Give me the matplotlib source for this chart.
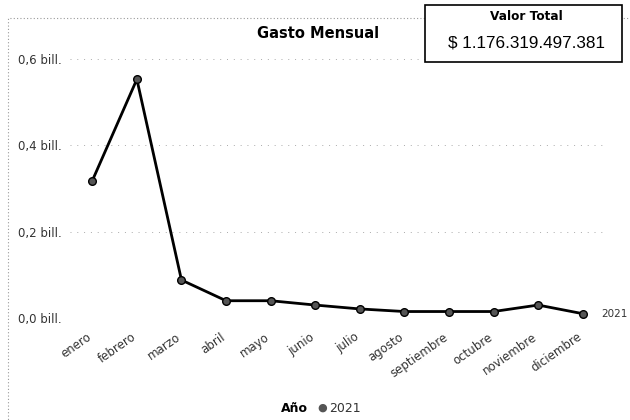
import matplotlib.pyplot as plt
import matplotlib.transforms as mtransforms
from matplotlib.patches import Rectangle

# data (bill. = 10^12 COP)
meses = ["enero", "febrero", "marzo", "abril", "mayo", "junio", "julio",
         "agosto", "septiembre", "octubre", "noviembre", "diciembre"]
gasto = [0.318, 0.553, 0.088, 0.040, 0.040, 0.030, 0.021,
         0.015, 0.015, 0.015, 0.030, 0.010]
y_ticks = [0.0, 0.2, 0.4, 0.6]
y_labels = ["0,0 bill.", "0,2 bill.", "0,4 bill.", "0,6 bill."]
serie = "2021"
total_txt = "$ 1.176.319.497.381"

W, H = 630, 420
fig = plt.figure(figsize=(6.3, 4.2), dpi=100)

def fx(px):
    return px / W

def fy(py):
    return 1 - py / H

# dotted frame of the visual
fig.patches.append(Rectangle((fx(8), fy(425)), fx(700), 407 / H, transform=fig.transFigure,
                             fill=False, edgecolor="#999999", lw=0.8, linestyle=(0, (1, 2))))

ax = fig.add_axes([fx(70), fy(318), fx(605 - 70), (318 - 59) / H])
x = list(range(len(meses)))
ax.plot(x, gasto, color="black", lw=2, marker="o", markersize=5.5,
        markerfacecolor="#555555", markeredgecolor="black", markeredgewidth=1, clip_on=False, zorder=3)
ax.set_xlim(-0.5, len(meses) - 0.5)
ax.set_ylim(0, 0.6)
ax.set_yticks(y_ticks)
ax.set_yticklabels(y_labels, fontsize=8.5, color="#333333")
ax.set_xticks(x)
ax.set_xticklabels(meses, rotation=35, ha="right", rotation_mode="anchor",
                   fontsize=8.5, color="#333333")
ax.tick_params(axis="y", length=0, pad=6)
ax.tick_params(axis="x", length=0, pad=9)
shift = mtransforms.ScaledTranslation(-6 / 100, 0, fig.dpi_scale_trans)
for lab in ax.get_xticklabels():
    lab.set_transform(lab.get_transform() + shift)
ax.grid(axis="y", color="#aaaaaa", linestyle=(0, (1, 6)), lw=0.7)
for s in ax.spines.values():
    s.set_visible(False)
ax.patch.set_alpha(0)

ax.annotate(serie, (x[-1], gasto[-1]), xytext=(13, 0), textcoords="offset points",
            fontsize=7.5, color="#333333", va="center", annotation_clip=False)

# title
fig.text(fx(318), fy(33), "Gasto Mensual", fontsize=10.5, fontweight="bold",
         ha="center", va="center")

# total box
fig.patches.append(Rectangle((fx(425), fy(62)), fx(622 - 425), 57 / H, transform=fig.transFigure,
                             fill=True, facecolor="white", edgecolor="black", lw=1.2, zorder=5))
fig.text(fx(526), fy(16), "Valor Total", fontsize=8.7, fontweight="bold",
         ha="center", va="center", zorder=6)
fig.text(fx(527), fy(43), total_txt, fontsize=12.3, ha="center", va="center",
         family="Liberation Sans", zorder=6)

# legend
fig.text(fx(294), fy(408), "Año", fontsize=9, fontweight="bold", ha="center", va="center")
fig.text(fx(322), fy(408), "\u25CF", fontsize=8, color="#555555", ha="center", va="center")
fig.text(fx(329), fy(408), serie, fontsize=9, color="#333333", ha="left", va="center")

fig.savefig("out.png", dpi=100)
